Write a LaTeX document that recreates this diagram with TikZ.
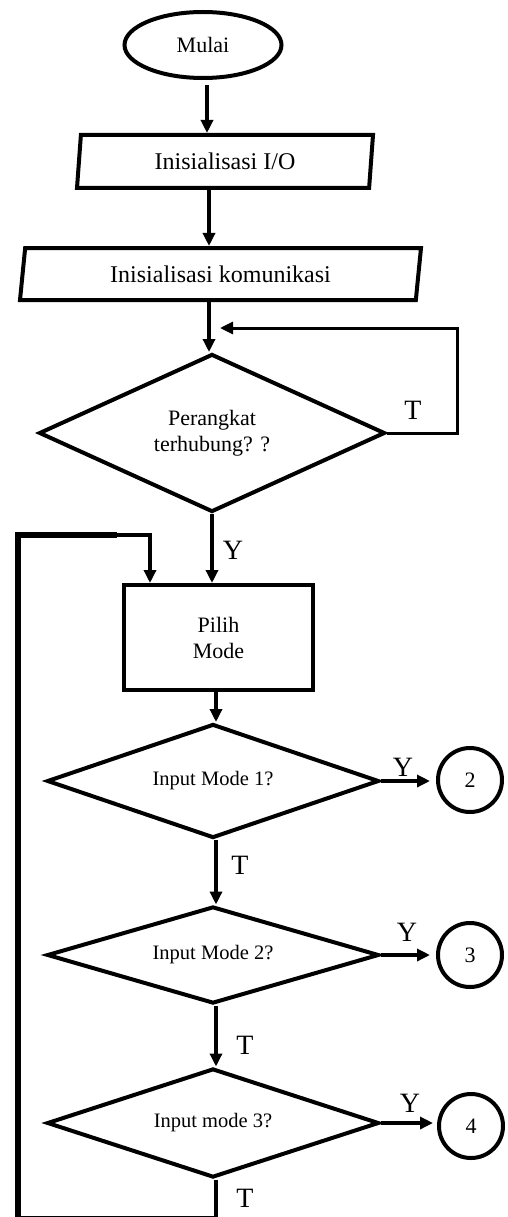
\documentclass[tikz,border=0pt]{standalone}
\usepackage{fontspec}
\setmainfont{Liberation Serif}
\usetikzlibrary{shapes.geometric,arrows.meta}
\begin{document}
\begin{tikzpicture}[x=1pt,y=-1pt,
  shp/.style={draw,line width=4pt,inner sep=0pt,align=center},
  arr/.style={line width=3.3pt,-{Triangle[length=13pt,width=12pt]}},
  ln/.style={line width=3.3pt},
  thickln/.style={line width=5.5pt},
  lbl/.style={font=\fontsize{28}{32}\selectfont,inner sep=0pt},
  txtA/.style={font=\fontsize{22}{26}\selectfont},
  txtB/.style={font=\fontsize{24}{28}\selectfont},
  txtC/.style={font=\fontsize{20.5}{24}\selectfont},
  para/.style={shp,trapezium,trapezium stretches body,txtB}
]
\useasboundingbox (0,0) rectangle (507,1217);

% column coordinates
\coordinate (xa) at (207,0);
\coordinate (xb) at (209,0);
\coordinate (xd) at (216,0);

% nodes
\node[shp,ellipse,minimum width=157pt,minimum height=66pt,txtA] (mulai) at (203,45) {Mulai};
\node[para,trapezium left angle=77,trapezium right angle=103,minimum width=296pt,minimum height=53pt] (io) at (225,161.5) {Inisialisasi I/O};
\node[para,trapezium left angle=73,trapezium right angle=107,minimum width=401pt,minimum height=52pt] (kom) at (220.5,274) {Inisialisasi komunikasi};
\node[shp,diamond,aspect=2.2,minimum width=346pt,minimum height=158pt,txtA] (d1) at (212,433) {Perangkat\\terhubung? ?};
\node[shp,rectangle,minimum width=189pt,minimum height=105pt,txtA] (pilih) at (218.5,637.5) {Pilih\\Mode};
\node[shp,diamond,aspect=2.9,minimum width=332pt,minimum height=114pt,txtC] (d2) at (213,781) {Input Mode 1?};
\node[shp,diamond,aspect=3.4,minimum width=332pt,minimum height=97pt,txtC] (d3) at (213,955) {Input Mode 2?};
\node[shp,diamond,aspect=3.0,minimum width=332pt,minimum height=109pt,txtC] (d4) at (213,1123) {Input mode 3?};
\node[shp,circle,minimum size=64pt,txtA] (c2) at (470,780) {2};
\node[shp,circle,minimum size=64pt,txtA] (c3) at (470,955) {3};
\node[shp,circle,minimum size=64pt,txtA] (c4) at (471,1126) {4};

% connectors
\draw[arr,shorten <=5pt] (mulai.south -| xa) -- (io.north -| xa);
\draw[arr] (io.south -| xb) -- (kom.north -| xb);
\draw[arr] (kom.south -| xb) -- (d1.north -| xb);

\coordinate (loopR) at (457,328);
\coordinate (loopEnd) at (220,328);
\draw[arr,line width=3pt] (d1.east) -| (loopR) -- (loopEnd);
\node[lbl] (t1) at (413,410) {T};

\draw[arr] (d1.south) -- (pilih.north -| d1.south);
\node[lbl] (y1) at (233,550) {Y};

\draw[arr] (pilih.south -| xd) -- (d2.north -| xd);
\draw[arr] (d2.south -| xd) -- (d3.north -| xd);
\node[lbl] (t2) at (240,865) {T};
\draw[arr] (d3.south -| xd) -- (d4.north -| xd);
\node[lbl] (t3) at (245,1045) {T};

\draw[arr,shorten >=6pt] (d2.east) -- (c2.west |- d2.east);
\node[lbl] (y2) at (403,767) {Y};
\draw[arr,shorten >=6pt] (d3.east) -- (c3.west |- d3.east);
\node[lbl] (y3) at (407,932) {Y};
\draw[arr,shorten >=4pt] (d4.east) -- (c4.west |- d4.east);
\node[lbl] (y4) at (410,1103) {Y};

% back loop
\coordinate (bl) at (18,1217.5);
\coordinate (tl) at (18,535);
\coordinate (tm) at (117,535);
\coordinate (tr2) at (150,535);
\draw[ln] (d4.south -| xd) -- (xd |- bl) -- (bl);
\draw[thickln] (bl) -- (tl) -- (tm);
\draw[arr] (tm) -- (tr2) -- (pilih.north -| tr2);
\node[lbl] (t4) at (245,1198) {T};
\end{tikzpicture}
\end{document}
